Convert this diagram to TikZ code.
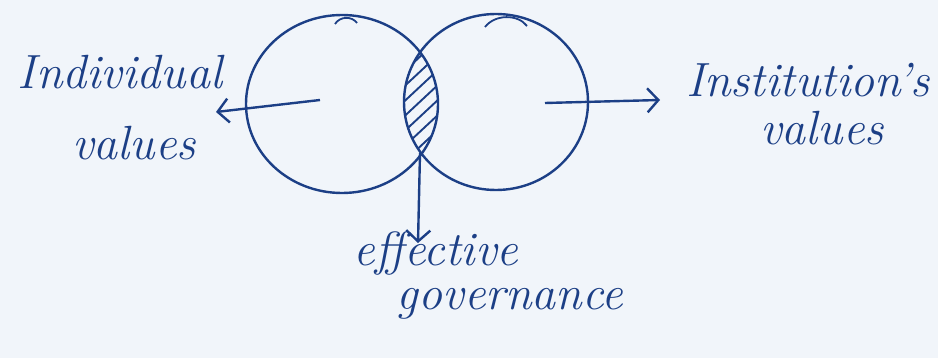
\documentclass[tikz,border=0pt]{standalone}
\usetikzlibrary{shapes.geometric,arrows.meta}
\definecolor{ink}{HTML}{1C3F86}
\definecolor{paper}{HTML}{F1F5FA}
\tikzset{
  venn/.style={ellipse, draw=ink, line width=2.4pt, inner sep=0pt},
  lbl/.style={text=ink, font=\fontsize{48}{50}\selectfont\itshape, inner sep=0pt},
  conn/.style={draw=ink, line width=2.4pt, -{Straight Barb[length=11pt,width=24pt,line width=2.4pt]}},
  hatch/.style={draw=ink, line width=1.9pt},
  tick/.style={draw=ink, line width=1.8pt}
}
\begin{document}
\begin{tikzpicture}[x=1pt,y=-1pt]
\useasboundingbox[fill=paper] (0,0) rectangle (938,358);
% circles
\node[venn, minimum width=192pt, minimum height=178pt] (lc) at (342,104) {};
\node[venn, minimum width=184pt, minimum height=176pt] (rc) at (496,102) {};
% hatched overlap
\begin{scope}
  \clip (342,104) ellipse (96pt and 89pt);
  \clip (496,102) ellipse (92pt and 88pt);
  \foreach \y in {30,45,...,230} {
    \draw[hatch] (380,\y+34) -- (470,\y-50);
  }
\end{scope}
% small pen marks on top
\draw[tick] (335,24) .. controls (340,16) and (352,16) .. (357,23);
\draw[tick] (485,27) .. controls (495,14) and (518,14) .. (527,26);
% labels
\node[lbl] (ind) at (120,72) {Individual};
\node[lbl] (indv) at (134,143) {values};
\node[lbl] (ins) at (808,80) {Institution's};
\node[lbl] (insv) at (822,128) {values};
\node[lbl] (eff) at (436,254) {effective};
\node[lbl] (gov) at (510,304) {governance};
% connectors
\coordinate (lstart) at (320,100);
\coordinate (ltip) at (216,112);
\coordinate (rstart) at (545,103);
\coordinate (rtip) at (660,100);
\coordinate (dstart) at (420,153);
\coordinate (dtip) at (418,243);
\draw[conn] (lstart) -- (ltip);
\draw[conn] (rstart) -- (rtip);
\draw[conn] (dstart) -- (dtip);
\end{tikzpicture}
\end{document}
